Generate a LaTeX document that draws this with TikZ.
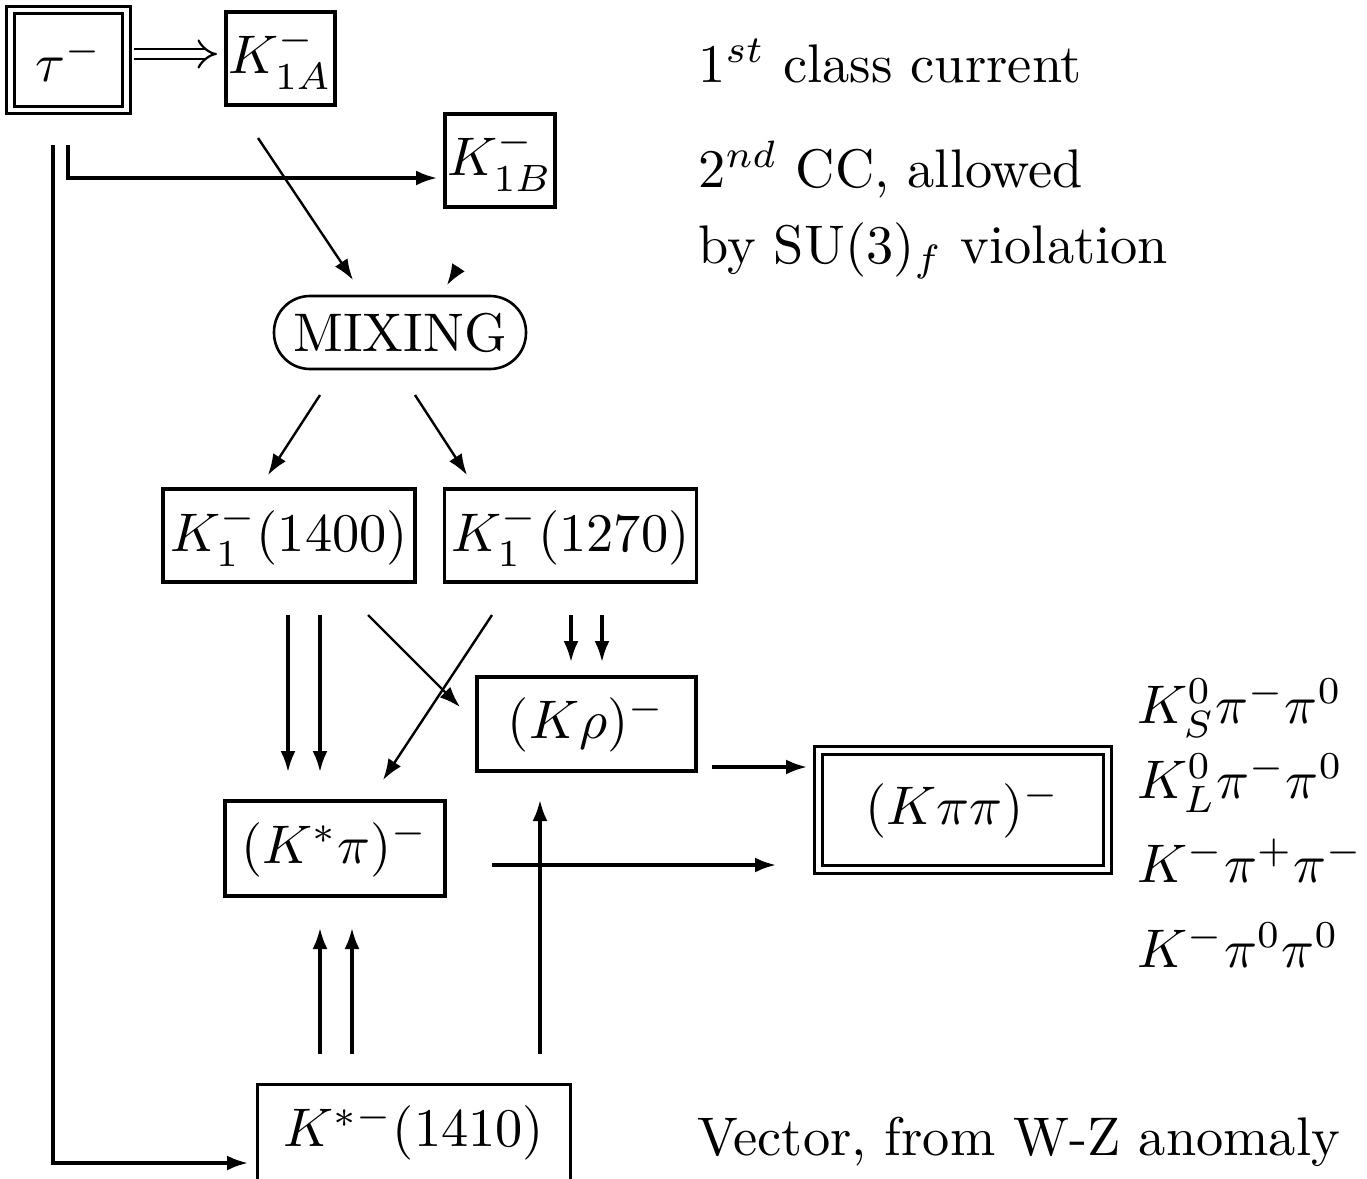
\RequirePackage{fix-cm}
\documentclass[tikz,border=0pt]{standalone}
\usetikzlibrary{arrows.meta}
\newcommand{\bx}[1]{\scalebox{2.72}{#1}}
\begin{document}
\begin{tikzpicture}[x=0.5pt,y=-0.5pt,
  every node/.style={font=\fontsize{10}{12}\selectfont, inner sep=0pt},
  box/.style={draw, line width=1.85pt},
  dbox/.style={draw, line width=1.6pt, double, double distance=2.1pt},
  con/.style={line width=1.6pt, -{Latex[length=10.5pt,width=7.5pt]}},
  dcon/.style={line width=1.2pt, -{Latex[length=10.5pt,width=7.5pt]}},
  lbl/.style={anchor=base west}]
\fill[white] (0,0) rectangle (1367,1179);
\useasboundingbox (0,0) rectangle (1367,1179);

% boxes
\node[dbox, minimum width=58pt, minimum height=50pt] (tau) at (68.5,60) {\bx{$\tau^-$}};
\node[box, minimum width=54.5pt, minimum height=46.5pt] (k1a) at (280.5,58.5) {\bx{$K^-_{1A}$}};
\node[box, minimum width=55pt, minimum height=46.5pt] (k1b) at (500,160.5) {\bx{$K^-_{1B}$}};
\node[draw, line width=1.3pt, rounded corners=18pt, minimum width=126pt, minimum height=36.5pt] (mix) at (400,332.5) {\bx{MIXING}};
\node[box, minimum width=126pt, minimum height=46.5pt] (k1400) at (289,535.5) {\bx{$K^-_1(1400)$}};
\node[box, minimum width=126pt, minimum height=46.5pt] (k1270) at (570.5,535.5) {\bx{$K^-_1(1270)$}};
\node[box, minimum width=109.5pt, minimum height=47pt] (krho) at (586.5,724) {\bx{$(K\rho)^-$}};
\node[box, minimum width=110pt, minimum height=47.5pt] (kstpi) at (335,848.5) {\bx{$(K^*\pi)^-$}};
\node[dbox, minimum width=144.5pt, minimum height=59.5pt] (kpipi) at (963,810) {\bx{$(K\pi\pi)^-$}};
\node[minimum width=156pt, minimum height=47pt] (k1410) at (414,1132) {\bx{$K^{*-}(1410)$}};
\draw[line width=1.85pt] ([yshift=-4pt]k1410.south west) -- (k1410.north west) -- (k1410.north east) -- ([yshift=-4pt]k1410.south east);

% labels
\node[lbl] (l1) at (698,82) {\bx{$1^{st}$ class current}};
\node[lbl] (l2) at (698,187) {\bx{$2^{nd}$ CC, allowed}};
\node[lbl] (l3) at (698,263) {\bx{by SU$(3)_f$ violation}};
\node[lbl] (d1) at (1137,723) {\bx{$K^0_S\pi^-\pi^0$}};
\node[lbl] (d2) at (1137,798) {\bx{$K^0_L\pi^-\pi^0$}};
\node[lbl] (d3) at (1137,882) {\bx{$K^-\pi^+\pi^-$}};
\node[lbl] (d4) at (1137,967) {\bx{$K^-\pi^0\pi^0$}};
\node[lbl] (l4) at (697,1155) {\bx{Vector, from W-Z anomaly}};

% connector end points
\coordinate (dA) at (134,54);
\coordinate (dB) at (217,54);
\coordinate (tb1) at (68,145);
\coordinate (tb2) at (437,178);
\coordinate (tc1) at (53,145);
\coordinate (tc2) at (248,1163);
\coordinate (ma1) at (258,138);
\coordinate (ma2) at (353,280);
\coordinate (mb1) at (458.4,267.4);
\coordinate (mb2) at (447,285);
\coordinate (x1a) at (320,395);
\coordinate (x1b) at (268,475);
\coordinate (x2a) at (415,395);
\coordinate (x2b) at (467,475);
\coordinate (p1a) at (288,615);
\coordinate (p1b) at (288,772);
\coordinate (p2a) at (320,615);
\coordinate (p2b) at (320,772);
\coordinate (p3a) at (368,615);
\coordinate (p3b) at (460,707);
\coordinate (q1a) at (492,615);
\coordinate (q1b) at (383,780);
\coordinate (q2a) at (571,615);
\coordinate (q2b) at (571,662);
\coordinate (q3a) at (602,615);
\coordinate (q3b) at (602,662);
\coordinate (r1a) at (712,767);
\coordinate (r1b) at (807,767);
\coordinate (s1a) at (492,865);
\coordinate (s1b) at (776,865);
\coordinate (v1a) at (540,1054);
\coordinate (v1b) at (540,800);
\coordinate (v2a) at (320,1054);
\coordinate (v2b) at (320,928);
\coordinate (v3a) at (352,1054);
\coordinate (v3b) at (352,928);

% connectors
\draw[line width=1.1pt, double, double distance=4pt, -{Implies}] (dA) -- (dB);
\draw[con] (tb1) |- (tb2);
\draw[con] (tc1) |- (tc2);
\draw[dcon] (ma1) -- (ma2);
\draw[dcon] (mb1) -- (mb2);
\draw[dcon] (x1a) -- (x1b);
\draw[dcon] (x2a) -- (x2b);
\draw[con] (p1a) -- (p1b);
\draw[con] (p2a) -- (p2b);
\draw[dcon] (p3a) -- (p3b);
\draw[dcon] (q1a) -- (q1b);
\draw[con] (q2a) -- (q2b);
\draw[con] (q3a) -- (q3b);
\draw[con] (r1a) -- (r1b);
\draw[con] (s1a) -- (s1b);
\draw[con] (v1a) -- (v1b);
\draw[con] (v2a) -- (v2b);
\draw[con] (v3a) -- (v3b);
\end{tikzpicture}
\end{document}
